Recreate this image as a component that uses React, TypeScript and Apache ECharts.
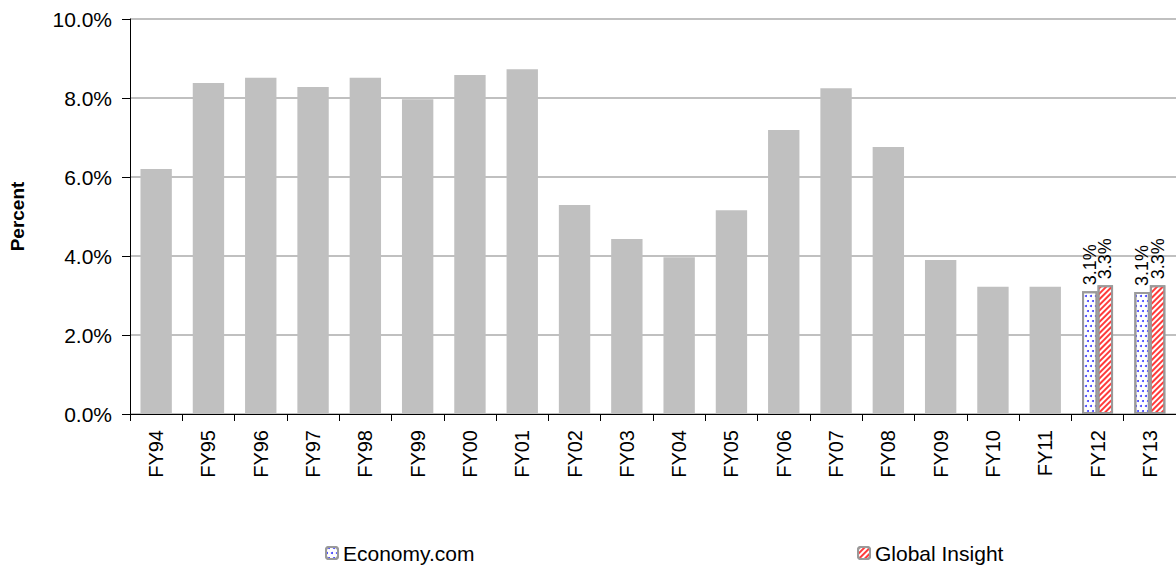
import React, { useEffect, useRef } from "react";
import * as echarts from "echarts";

const categories = ["FY94","FY95","FY96","FY97","FY98","FY99","FY00","FY01","FY02","FY03","FY04","FY05","FY06","FY07","FY08","FY09","FY10","FY11","FY12","FY13"];
const historical = [6.2, 8.38, 8.51, 8.28, 8.51, 7.97, 8.58, 8.73, 5.29, 4.43, 3.97, 5.16, 7.19, 8.25, 6.76, 3.9, 3.22, 3.22, null, null];
const economyCom = [null, null, null, null, null, null, null, null, null, null, null, null, null, null, null, null, null, null, 3.11, 3.09];
const globalInsight = [null, null, null, null, null, null, null, null, null, null, null, null, null, null, null, null, null, null, 3.26, 3.26];
const yTicks = { min: 0, max: 10, interval: 2 };

const FONT = "'Liberation Sans', Arial, sans-serif";

export default function App() {
  const ref = useRef<HTMLDivElement>(null);
  useEffect(() => {
    if (!ref.current) return;
    const chart = echarts.init(ref.current, undefined, { renderer: "svg" });
    const label = {
      show: true,
      position: "top",
      rotate: 90,
      align: "left",
      verticalAlign: "middle",
      distance: 6,
      fontSize: 18,
      fontFamily: FONT,
      color: "#000",
      formatter: (p: any) => Number(p.value).toFixed(1) + "%",
    };
    const legendText = { fontSize: 21, fontFamily: FONT, color: "#000", lineHeight: 22 };
    chart.setOption({
      animation: false,
      textStyle: { fontFamily: FONT },
      grid: { left: 130, right: 0, top: 19, bottom: 153, containLabel: false },
      legend: [
        {
          data: ["Economy.com"],
          left: 325,
          top: 542,
          padding: 0,
          itemWidth: 12,
          itemHeight: 12,
          textStyle: legendText,
        },
        {
          data: ["Global Insight"],
          left: 857,
          top: 542,
          padding: 0,
          itemWidth: 12,
          itemHeight: 12,
          textStyle: legendText,
        },
      ],
      xAxis: [
        {
          type: "category",
          data: categories,
          axisLine: { lineStyle: { color: "#000", width: 1 } },
          axisTick: { show: true, length: 7, lineStyle: { color: "#000" } },
          axisLabel: { rotate: 90, fontSize: 20, color: "#000", margin: 16, fontFamily: FONT },
        },
        { type: "category", data: categories, show: false },
      ],
      yAxis: {
        type: "value",
        min: yTicks.min,
        max: yTicks.max,
        interval: yTicks.interval,
        name: "Percent",
        nameLocation: "middle",
        nameRotate: 90,
        nameGap: 103,
        nameTextStyle: { fontSize: 19, fontWeight: "bold", color: "#000", fontFamily: FONT },
        axisLine: { show: true, lineStyle: { color: "#000", width: 1 } },
        axisTick: { show: true, length: 8, lineStyle: { color: "#000" } },
        axisLabel: {
          fontSize: 21,
          color: "#000",
          margin: 18,
          fontFamily: FONT,
          formatter: (v: number) => v.toFixed(1) + "%",
        },
        splitLine: { show: true, lineStyle: { color: "#c0c0c0", width: 2 } },
      },
      series: [
        {
          name: "Historical",
          type: "bar",
          xAxisIndex: 1,
          data: historical,
          barWidth: "60%",
          itemStyle: { color: "#c0c0c0" },
        },
        {
          name: "Economy.com",
          type: "bar",
          xAxisIndex: 0,
          data: economyCom,
          barWidth: 15.5,
          barGap: "0%",
          itemStyle: {
            color: "#ffffff",
            borderColor: "#9a9a9a",
            borderWidth: 2,
            decal: {
              symbol: "circle",
              symbolSize: 1,
              color: "#3b3bff",
              dashArrayX: [[1.5, 2.5], [0, 2, 1.5, 0.5]],
              dashArrayY: [1.5, 2.5],
            },
          },
          label,
        },
        {
          name: "Global Insight",
          type: "bar",
          xAxisIndex: 0,
          data: globalInsight,
          barWidth: 15.5,
          barGap: "0%",
          itemStyle: {
            color: "#ffffff",
            borderColor: "#9a9a9a",
            borderWidth: 2,
            decal: {
              symbol: "rect",
              symbolSize: 1,
              color: "#ff3b3b",
              dashArrayX: [1, 0],
              dashArrayY: [1.6, 1.6],
              rotation: -Math.PI / 4,
            },
          },
          label,
        },
      ],
    });
    return () => chart.dispose();
  }, []);
  return <div ref={ref} style={{ width: 1176, height: 567, position: "absolute", left: 0, top: 0 }} />;
}
